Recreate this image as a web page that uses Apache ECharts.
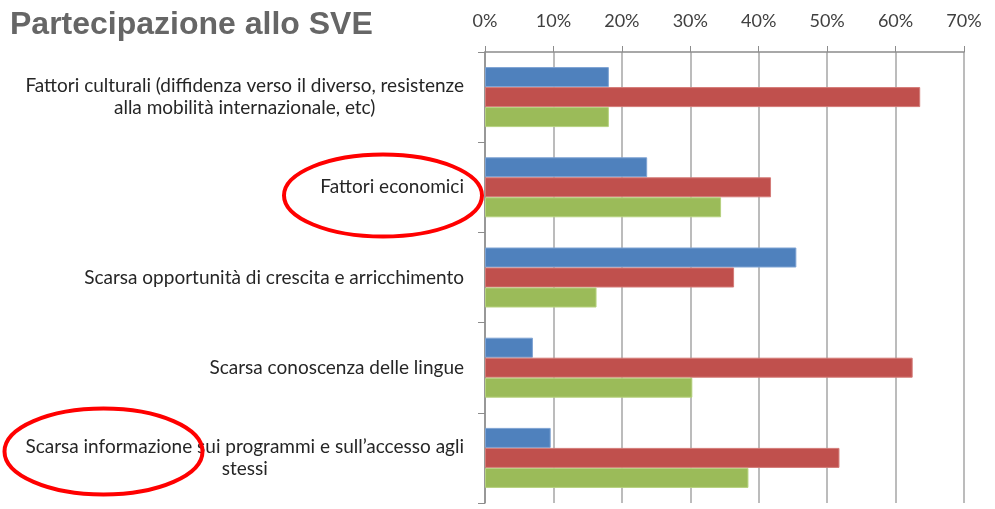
<!DOCTYPE html>
<html>
<head>
<meta charset="utf-8">
<title>Partecipazione allo SVE</title>
<script src="https://cdn.jsdelivr.net/npm/echarts@6/dist/echarts.min.js"></script>
<style>
  html, body { margin: 0; padding: 0; background: #fff; }
  #chart { width: 995px; height: 509px; }
</style>
</head>
<body>
<div id="chart"></div>
<script>
// categories, top to bottom
var categories = [
  'Fattori culturali (diffidenza verso il diverso, resistenze\nalla mobilità internazionale, etc)',
  'Fattori economici',
  'Scarsa opportunità di crescita e arricchimento',
  'Scarsa conoscenza delle lingue',
  'Scarsa informazione sui programmi e sull’accesso agli\nstessi'
];
var blueValues = [0.181, 0.237, 0.455, 0.070, 0.096];
var redValues = [0.636, 0.418, 0.364, 0.625, 0.518];
var greenValues = [0.181, 0.345, 0.163, 0.303, 0.385];

var chart = echarts.init(document.getElementById('chart'));

var barSeries = function (data, color, border) {
  return {
    type: 'bar',
    data: data,
    barWidth: 20,
    barGap: '0%',
    itemStyle: { color: color, borderColor: border, borderWidth: 1 },
    silent: true
  };
};

var option = {
  animation: false,
  textStyle: { fontFamily: 'Lato' },
  grid: { left: 485, right: 31, top: 52, bottom: 6 },
  xAxis: {
    type: 'value',
    position: 'top',
    min: 0,
    max: 0.7,
    interval: 0.1,
    axisLine: { show: true, lineStyle: { color: '#8c8c8c', width: 1.5 } },
    axisTick: { show: true, length: 6, lineStyle: { color: '#8c8c8c' } },
    axisLabel: {
      margin: 22,
      color: '#404040',
      fontSize: 18,
      fontFamily: 'Lato',
      formatter: function (v) { return Math.round(v * 100) + '%'; }
    },
    splitLine: { show: true, lineStyle: { color: '#a6a6a6', width: 1.5 } }
  },
  yAxis: {
    type: 'category',
    inverse: true,
    data: categories,
    axisLine: { show: true, lineStyle: { color: '#8c8c8c', width: 1.5 } },
    axisTick: { show: true, length: 7, lineStyle: { color: '#8c8c8c' } },
    axisLabel: {
      margin: 21,
      color: '#262626',
      fontSize: 19,
      fontFamily: 'Lato',
      formatter: function (v) {
        return v.split('\n').map(function (s) { return '{c|' + s + '}'; }).join('\n');
      },
      rich: {
        c: { align: 'center', fontSize: 19, fontFamily: 'Lato', color: '#262626', lineHeight: 22 }
      }
    }
  },
  series: [
    barSeries(blueValues, '#4f81bd', '#7ea3d3'),
    barSeries(redValues, '#c0504d', '#d47b78'),
    barSeries(greenValues, '#9bbb59', '#b7d27f')
  ],
  graphic: [
    {
      type: 'text',
      left: 10,
      top: 9,
      style: {
        text: 'Partecipazione allo SVE',
        fill: '#666666',
        font: 'bold 32px "Liberation Sans", Arial, sans-serif'
      }
    },
    {
      type: 'ellipse',
      shape: { cx: 383, cy: 195.5, rx: 99, ry: 41 },
      style: { fill: 'none', stroke: '#ff0000', lineWidth: 4 },
      z: 100
    },
    {
      type: 'ellipse',
      shape: { cx: 103.5, cy: 451.5, rx: 99, ry: 43 },
      style: { fill: 'none', stroke: '#ff0000', lineWidth: 4 },
      z: 100
    }
  ]
};

chart.setOption(option);
</script>
</body>
</html>
